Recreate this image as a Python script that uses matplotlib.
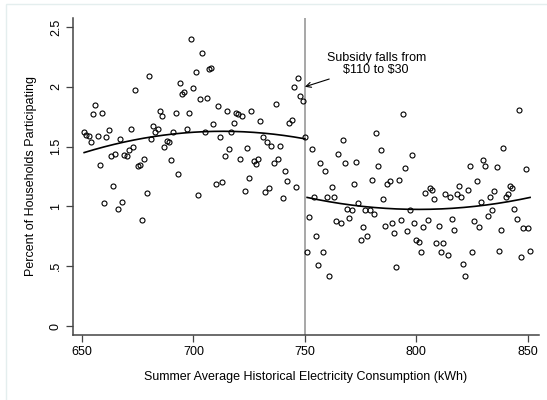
import matplotlib
matplotlib.use('Agg')
import matplotlib.pyplot as plt
import numpy as np
from matplotlib.patches import Rectangle

plt.rcParams['font.family'] = ['Liberation Sans', 'DejaVu Sans']

# kWh bins, one per integer
kwh_left = np.arange(651, 751)
kwh_right = np.arange(751, 852)

pct_left = [1.62, 1.60, 1.59, 1.54, 1.77, 1.845, 1.59, 1.35, 1.78, 1.03,
            1.58, 1.64, 1.42, 1.17, 1.44, 0.98, 1.56, 1.04, 1.43, 1.42,
            1.47, 1.65, 1.50, 1.97, 1.335, 1.35, 0.89, 1.40, 1.115, 2.09,
            1.56, 1.675, 1.625, 1.65, 1.80, 1.755, 1.50, 1.545, 1.535, 1.39,
            1.62, 1.78, 1.27, 2.03, 1.94, 1.955, 1.65, 1.78, 2.40, 1.99,
            2.125, 1.095, 1.895, 2.28, 1.62, 1.91, 2.15, 2.155, 1.685, 1.19,
            1.84, 1.58, 1.20, 1.42, 1.80, 1.48, 1.62, 1.70, 1.78, 1.775,
            1.40, 1.755, 1.13, 1.485, 1.235, 1.80, 1.38, 1.355, 1.40, 1.71,
            1.58, 1.12, 1.54, 1.155, 1.505, 1.36, 1.855, 1.40, 1.505, 1.07,
            1.30, 1.21, 1.70, 1.72, 2.00, 1.16, 2.07, 1.925, 1.88, 1.58]

pct_right = [0.62, 0.91, 1.48, 1.075, 0.75, 0.51, 1.365, 0.62, 1.30, 1.075,
             0.42, 1.16, 1.075, 0.875, 1.435, 0.86, 1.555, 1.36, 0.975, 0.90,
             0.97, 1.19, 1.375, 1.03, 0.716, 0.825, 0.967, 0.75, 0.967, 1.22,
             0.94, 1.61, 1.34, 1.475, 1.06, 0.84, 1.19, 1.21, 0.865, 0.78,
             0.49, 1.22, 0.89, 1.77, 1.317, 0.794, 0.97, 1.426, 0.865, 0.716,
             0.70, 0.616, 0.825, 1.11, 0.89, 1.155, 1.14, 1.06, 0.694, 0.836,
             0.616, 0.694, 1.10, 0.59, 1.08, 0.895, 0.80, 1.10, 1.17, 1.075,
             0.52, 0.42, 1.14, 1.335, 0.62, 0.88, 1.21, 0.83, 1.04, 1.385,
             1.34, 0.92, 1.08, 0.967, 1.126, 1.33, 0.627, 0.80, 1.485, 1.08,
             1.105, 1.17, 1.15, 0.98, 0.895, 1.81, 0.58, 0.82, 1.31, 0.82,
             0.63]

# quadratic fit curves, read at start / middle / end of each side
fit_left_x = [651, 700, 750]
fit_left_y = [1.45, 1.62, 1.565]
fit_right_x = [751, 801, 851]
fit_right_y = [1.075, 0.975, 1.075]

cutoff = 750
yticks = [0, 0.5, 1, 1.5, 2, 2.5]
ytick_labels = ['0', '.5', '1', '1.5', '2', '2.5']
xticks = [650, 700, 750, 800, 850]

fig = plt.figure(figsize=(5.47, 4.0), dpi=100)
fig.add_artist(Rectangle((6/547, -0.1), 1.2, 1.1 - 4/400, transform=fig.transFigure,
                         fill=False, ec='#e4eeee', lw=1))
ax = fig.add_axes([73/547, 65/400, 466/547, 317/400])

ax.axvline(cutoff, color='#a0a0a0', lw=1.3, zorder=1)

ax.plot(kwh_left, pct_left, 'o', mfc='none', mec='black', ms=3.6, mew=0.8, zorder=3)
ax.plot(kwh_right, pct_right, 'o', mfc='none', mec='black', ms=3.6, mew=0.8, zorder=3)

for fx, fy in ((fit_left_x, fit_left_y), (fit_right_x, fit_right_y)):
    c = np.polyfit(fx, fy, 2)
    xx = np.linspace(fx[0], fx[-1], 200)
    ax.plot(xx, np.polyval(c, xx), color='black', lw=1.2, zorder=2)

ax.annotate('Subsidy falls from\n\\$110 to \\$30', xy=(750, 2.0), xytext=(782, 2.19),
            ha='center', va='center', fontsize=9, linespacing=0.95,
            arrowprops=dict(arrowstyle='->', color='black', lw=0.8, shrinkA=1, shrinkB=0))

ax.set_xlim(646, 855)
ax.set_ylim(-0.075, 2.575)
ax.set_xticks(xticks)
ax.set_yticks(yticks)
ax.set_yticklabels(ytick_labels, rotation=90, va='center')
for s in ('top', 'right'):
    ax.spines[s].set_visible(False)
for s in ('left', 'bottom'):
    ax.spines[s].set_color('#444444')
    ax.spines[s].set_linewidth(1.1)
ax.tick_params(length=5, width=0.9, color='#444444', labelsize=9, pad=3)
ax.set_xlabel('Summer Average Historical Electricity Consumption (kWh)', fontsize=9, labelpad=9)
ax.set_ylabel('Percent of Households Participating', fontsize=9, labelpad=9)

fig.savefig('out.png', dpi=100)
